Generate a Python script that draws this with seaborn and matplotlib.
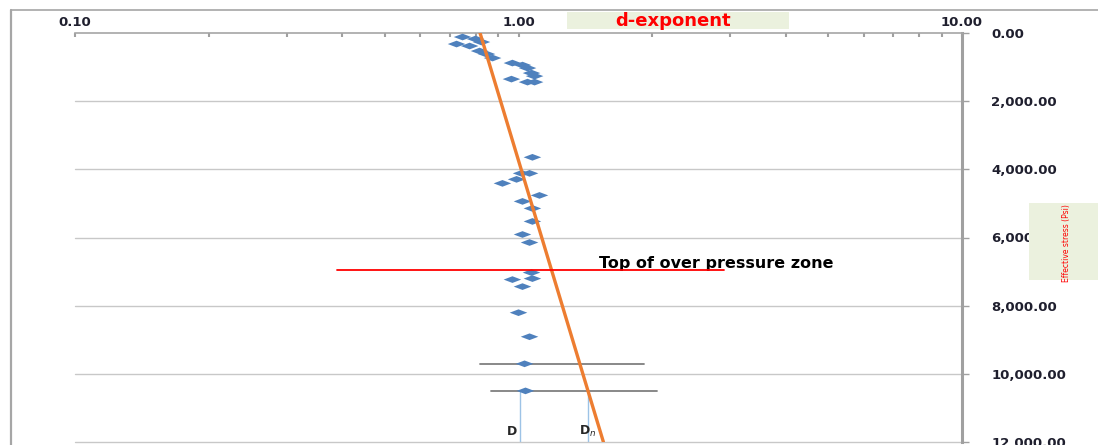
# d-exponent vs effective stress (log x, depth down)

import numpy as np
import pandas as pd
import matplotlib
matplotlib.use("Agg")
import matplotlib.pyplot as plt
from matplotlib.lines import Line2D
from matplotlib.patches import Rectangle
from matplotlib.path import Path
from matplotlib.ticker import FuncFormatter, LogLocator, FixedLocator
import seaborn as sns

# ======================================================
# DATA
# ======================================================

dexp = [0.748, 0.800, 0.725, 0.776, 0.825, 0.817, 0.847, 0.874,
        0.969, 1.021, 1.048, 1.070, 1.087, 0.964, 1.048, 1.087,
        1.075, 1.016, 1.059, 0.990, 0.920, 1.115, 1.021, 1.075,
        1.075, 1.021, 1.059, 1.070, 1.075, 0.969, 1.021, 1.000,
        1.059, 1.032, 1.037]
stress = [118, 176, 324, 382, 265, 529, 618, 735,
          882, 941, 1029, 1176, 1265, 1353, 1441, 1441,
          3647, 4118, 4118, 4294, 4412, 4765, 4941, 5147,
          5529, 5912, 6147, 7029, 7206, 7235, 7441, 8206,
          8912, 9706, 10500]

trend_d = [0.819, 1.554]
trend_s = [0, 12000]

top_op_stress = 6950
top_op_d = [0.389, 2.91]

bar1_stress, bar1_d = 9706, [0.817, 1.92]
bar2_stress, bar2_d = 10500, [0.869, 2.05]

d_obs, d_norm = 1.01, 1.438

x_ticks = [0.1, 1.0, 10.0]
y_ticks = [0, 2000, 4000, 6000, 8000, 10000, 12000]

df = pd.DataFrame({"d": dexp, "stress": stress})

# ======================================================
# FIGURE
# ======================================================

sns.set_style("white")
W, H = 1098, 445
fig = plt.figure(figsize=(W / 100, H / 100), dpi=100)
ax = fig.add_axes([75 / W, 1 - 442 / H, (962 - 75) / W, (442 - 33) / H])

diamond = Path([(-1, 0), (0, 0.38), (1, 0), (0, -0.38), (-1, 0)],
               [Path.MOVETO, Path.LINETO, Path.LINETO, Path.LINETO, Path.CLOSEPOLY])

ax.set_xscale("log")
ax.set_xlim(0.1, 10)
ax.set_ylim(12000, 0)

for yv in y_ticks[1:]:
    ax.axhline(yv, color="#c8c8c8", lw=1.0, zorder=0, clip_on=False)

sns.scatterplot(data=df, x="d", y="stress", marker=diamond, s=160,
                color="#4f81bd", edgecolor="none", ax=ax, zorder=3)

sns.lineplot(x=trend_d, y=trend_s, color="#ed7d31", lw=2.4, ax=ax,
             sort=False, zorder=4)

ax.plot(top_op_d, [top_op_stress] * 2, color="#ff0000", lw=1.3, zorder=5)
ax.text(1.52, top_op_stress - 200, "Top of over pressure zone",
        fontsize=11.5, fontweight="bold", color="black", va="center", ha="left")

ax.plot(bar1_d, [bar1_stress] * 2, color="#7f7f7f", lw=1.3, zorder=2)
ax.plot(bar2_d, [bar2_stress] * 2, color="#7f7f7f", lw=1.3, zorder=2)
ax.plot([d_obs, d_obs], [bar2_stress, 12000], color="#9dc3e6", lw=1.0, zorder=2)
ax.plot([d_norm, d_norm], [bar2_stress, 12000], color="#9dc3e6", lw=1.0, zorder=2)
ax.text(0.965, 11680, "D", fontsize=9, fontweight="bold", ha="center", va="center")
ax.text(1.43, 11680, r"D$_n$", fontsize=9, fontweight="bold", ha="center", va="center")

# axes styling
ax.xaxis.tick_top()
ax.yaxis.tick_right()
ax.xaxis.set_major_locator(FixedLocator(x_ticks))
ax.xaxis.set_minor_locator(LogLocator(base=10, subs=np.arange(2, 10)))
ax.xaxis.set_major_formatter(FuncFormatter(lambda v, p: f"{v:.2f}"))
ax.xaxis.set_minor_formatter(FuncFormatter(lambda v, p: ""))
ax.yaxis.set_major_locator(FixedLocator(y_ticks))
ax.yaxis.set_major_formatter(FuncFormatter(lambda v, p: f"{v:,.2f}"))

ax.tick_params(axis="x", which="both", direction="in", length=3, width=1.5,
               color="#a0a0a0", pad=3)
ax.tick_params(axis="y", which="major", direction="out", length=5, width=1,
               color="#a0a0a0", pad=16)
for t in ax.get_xticklabels() + ax.get_yticklabels():
    t.set_fontsize(9.5)
    t.set_fontweight("bold")
    t.set_color("#1f1f2e")

for side in ["left", "bottom"]:
    ax.spines[side].set_visible(False)
ax.spines["top"].set_color("#a6a6a6")
ax.spines["top"].set_linewidth(1.2)
ax.spines["right"].set_color("#a0a0a0")
ax.spines["right"].set_linewidth(2.2)
ax.set_xlabel("")
ax.set_ylabel("")

# chart border (cut off at right and bottom)
fig.add_artist(Line2D([11 / W, 11 / W], [0, 1 - 10 / H], color="#a6a6a6", lw=1.6,
                      transform=fig.transFigure))
fig.add_artist(Line2D([11 / W, 1], [1 - 10 / H, 1 - 10 / H], color="#a6a6a6", lw=1.2,
                      transform=fig.transFigure))

# title box
fig.add_artist(Rectangle((567 / W, 1 - 29 / H), (789 - 567) / W, 17 / H,
                         transform=fig.transFigure, facecolor="#ebf1de",
                         edgecolor="none", zorder=5))
fig.text(673 / W, 1 - 21 / H, "d-exponent", color="#ff0000", fontsize=13,
         fontweight="bold", ha="center", va="center", zorder=6)

# y label box
fig.add_artist(Rectangle((1029 / W, 1 - 280 / H), (W - 1029) / W, 77 / H,
                         transform=fig.transFigure, facecolor="#ebf1de",
                         edgecolor="none", zorder=5))
fig.text(1066 / W, 1 - 243 / H, "Effective stress (Psi)", color="#ff0000",
         fontsize=5.5, rotation=90, ha="center", va="center", zorder=6)

fig.savefig("out.png", dpi=100)
plt.close(fig)
